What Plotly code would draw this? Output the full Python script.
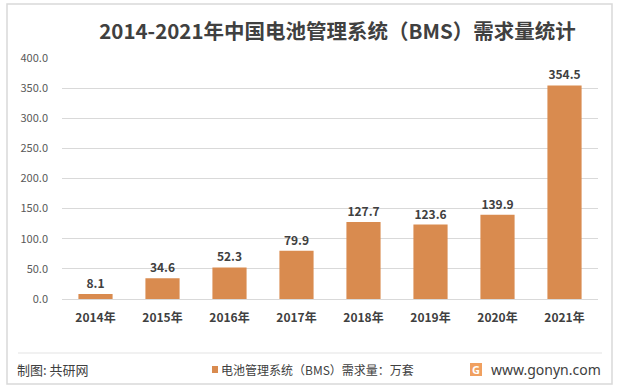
import plotly.graph_objects as go

years = ["2014年", "2015年", "2016年", "2017年", "2018年", "2019年", "2020年", "2021年"]
demand = [8.1, 34.6, 52.3, 79.9, 127.7, 123.6, 139.9, 354.5]
y_ticks = [0, 50, 100, 150, 200, 250, 300, 350, 400]
y_tick_labels = ["0.0", "50.0", "100.0", "150.0", "200.0", "250.0", "300.0", "350.0", "400.0"]
series_name = "电池管理系统（BMS）需求量：万套"

FONT = "Noto Sans CJK SC, Noto Sans, sans-serif"
BAR = "#D98B4F"

L, R, T, B = 62, 19, 58, 91
W, H = 617, 390
pw, ph = W - L - R, H - T - B

def px_x(p):
    return (p - L) / pw

def px_y(p):
    return (H - B - p) / ph

fig = go.Figure()
fig.add_trace(go.Bar(
    x=years, y=demand,
    name=series_name,
    marker=dict(color=BAR, line=dict(width=0)),
    width=0.51,
    texttemplate="%{y:.1f}", textposition="outside",
    textfont=dict(family=FONT, size=12, color="#404040", weight="bold"),
    cliponaxis=False,
    showlegend=False,
))

fig.update_layout(
    width=W, height=H,
    margin=dict(l=L, r=R, t=T, b=B, autoexpand=False),
    paper_bgcolor="white", plot_bgcolor="white",
    font=dict(family=FONT, color="#595959"),
    title=dict(text="2014-2021年中国电池管理系统（BMS）需求量统计",
               xref="container", x=337.5 / W, xanchor="center",
               yref="container", y=1 - 32 / H, yanchor="middle",
               font=dict(family=FONT, size=20.5, color="#404040", weight="bold")),
    showlegend=False,
)
fig.update_xaxes(showline=False, ticks="",
                 tickfont=dict(family=FONT, size=12, color="#404040", weight="bold"),
                 ticklabelstandoff=10)
fig.update_yaxes(range=[0, 400], tickvals=y_ticks, ticktext=y_tick_labels,
                 showgrid=True, gridcolor="#D9D9D9", gridwidth=1, zeroline=True,
                 zerolinecolor="#D9D9D9", zerolinewidth=1,
                 tickfont=dict(family=FONT, size=11, color="#595959"), ticklabelstandoff=13)

# outer frame
fig.add_shape(type="rect", xref="paper", yref="paper",
              x0=px_x(7), x1=px_x(612), y0=px_y(384), y1=px_y(4),
              line=dict(color="#D9D9D9", width=1.5), fillcolor="rgba(0,0,0,0)", layer="below")
# footer separator
fig.add_shape(type="line", xref="paper", yref="paper",
              x0=px_x(18), x1=px_x(602), y0=px_y(353), y1=px_y(353),
              line=dict(color="#E3E3E3", width=1))

fig.add_annotation(text="制图: 共研网", xref="paper", yref="paper",
                   x=px_x(15), y=px_y(369), xanchor="left", yanchor="middle", showarrow=False,
                   font=dict(family=FONT, size=13, color="#404040"))

# legend (square + text)
fig.add_shape(type="rect", xref="paper", yref="paper",
              x0=px_x(212), x1=px_x(218), y0=px_y(373), y1=px_y(366),
              line=dict(width=0), fillcolor=BAR)
fig.add_annotation(text=series_name, xref="paper", yref="paper",
                   x=px_x(219), y=px_y(369), xanchor="left", yanchor="middle", showarrow=False,
                   font=dict(family=FONT, size=12, color="#404040"))

fig.add_annotation(text="www.gonyn.com", xref="paper", yref="paper",
                   x=px_x(603), y=px_y(369), xanchor="right", yanchor="middle", showarrow=False,
                   font=dict(family="Noto Sans, sans-serif", size=14, color="#404040"))
# logo box
fig.add_shape(type="rect", xref="paper", yref="paper",
              x0=px_x(470), x1=px_x(482), y0=px_y(376), y1=px_y(363),
              line=dict(width=0), fillcolor="#F0A060")
fig.add_annotation(text="<b>G</b>", xref="paper", yref="paper",
                   x=px_x(476), y=px_y(369.5), xanchor="center", yanchor="middle", showarrow=False,
                   font=dict(family="Noto Sans, sans-serif", size=11, color="white"))

fig.write_html("out.html", config={"displayModeBar": False},
               post_script="document.body.style.margin='0';")
